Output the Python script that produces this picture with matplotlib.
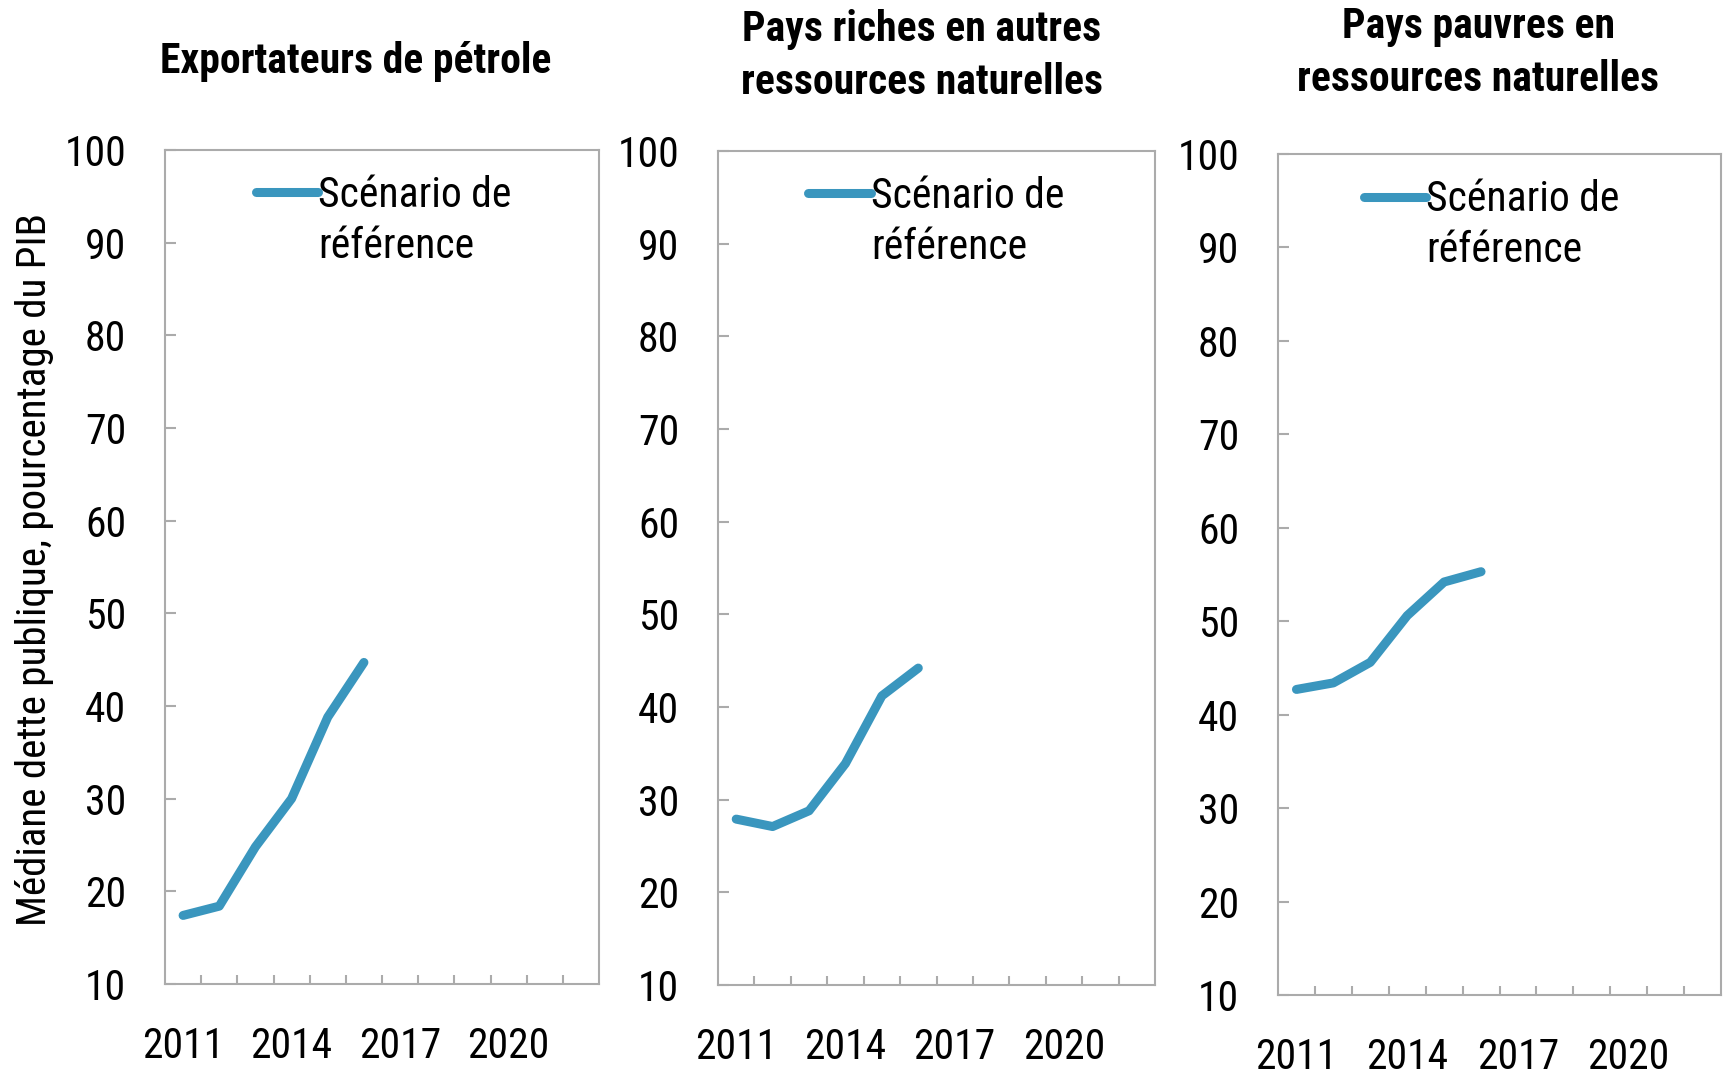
import numpy as np
import matplotlib.pyplot as plt

years = list(range(2011, 2023))
data_years = [2011, 2012, 2013, 2014, 2015, 2016]
oil = [17.4, 18.4, 24.8, 30.0, 38.8, 44.7]
other_rich = [27.9, 27.1, 28.8, 33.9, 41.2, 44.2]
poor = [42.7, 43.4, 45.6, 50.6, 54.2, 55.3]
titles = ["Exportateurs de pétrole",
          "Pays riches en autres\nressources naturelles",
          "Pays pauvres en\nressources naturelles"]
series = [oil, other_rich, poor]
year_labels = ["2011", "2014", "2017", "2020"]

plt.rcParams['font.family'] = ['Roboto Condensed', 'Liberation Sans', 'DejaVu Sans']

W, H = 1729, 1070
fig = plt.figure(figsize=(W / 100, H / 100), dpi=100)

# axes boxes in pixels: left, right, top, bottom
boxes = [(165, 599, 150, 984), (718, 1155, 151, 985), (1278, 1721, 154, 995)]
title_pos = [(356, 61), (922, 56), (1478, 53)]
legend_x = [0.209, 0.207, 0.194]
line_color = '#3A96BE'
spine_color = '#ABABAB'

for i, (l, r, t, b) in enumerate(boxes):
    ax = fig.add_axes([l / W, (H - b) / H, (r - l) / W, (b - t) / H])
    x = [years.index(y) for y in data_years]
    ax.plot(x, series[i], color=line_color, lw=6.5, solid_capstyle='round',
            label="Scénario de")
    ax.set_xlim(-0.5, len(years) - 0.5)
    ax.set_ylim(10, 100)
    ax.set_yticks(np.arange(10, 101, 10))
    ax.set_xticks([years.index(int(s)) for s in year_labels])
    ax.set_xticklabels(year_labels)
    ax.set_xticks(np.arange(0.5, len(years) - 0.5, 1), minor=True)
    ax.tick_params(axis='x', which='major', length=0, pad=30, labelsize=30)
    ax.tick_params(axis='x', which='minor', direction='in', length=6.5,
                   width=1.5, color=spine_color)
    ax.tick_params(axis='y', direction='in', length=8, width=1.5,
                   color=spine_color, pad=28, labelsize=30)
    for s in ax.spines.values():
        s.set_color(spine_color)
        s.set_linewidth(1.5)
    leg = ax.legend(loc='upper left', bbox_to_anchor=(legend_x[i], 0.970), frameon=False,
                    fontsize=30, handlelength=1.5, handletextpad=0.0,
                    borderaxespad=0, borderpad=0)
    for h in leg.legend_handles:
        h.set_linewidth(6.5)
        h.set_solid_capstyle('round')
    fig.canvas.draw()
    bb = leg.get_texts()[0].get_window_extent()
    ax.text(bb.x0, bb.y0 - 10, "référence", transform=None, fontsize=30,
            ha='left', va='top')
    tx, ty = title_pos[i]
    fig.text(tx / W, (H - ty) / H, titles[i], ha='center', va='center',
             fontsize=30, fontweight='bold', linespacing=1.35)

fig.text(35 / W, (H - 569) / H, "Médiane dette publique, pourcentage du PIB",
         rotation=90, ha='center', va='center', fontsize=29.5)

plt.savefig("out.png", dpi=100)
plt.close(fig)
